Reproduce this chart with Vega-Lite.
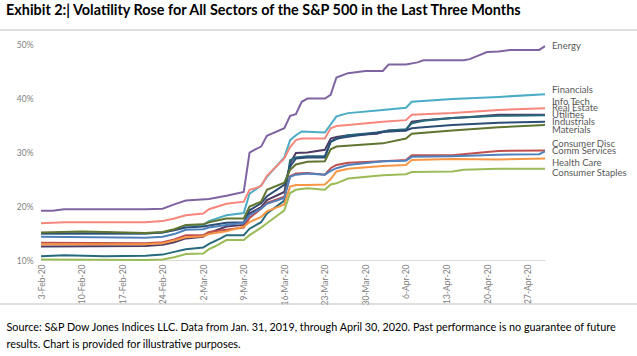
{
  "$schema": "https://vega.github.io/schema/vega-lite/v6.json",
  "width": 504,
  "height": 216,
  "autosize": {"type": "none"},
  "padding": {"left": 41, "top": 44, "right": 92, "bottom": 96},
  "background": "white",
  "config": {"view": {"stroke": null}, "font": "Lato"},
  "title": {
    "text": "Exhibit 2:| Volatility Rose for All Sectors of the S&P 500 in the Last Three Months",
    "anchor": "start",
    "frame": "group",
    "dx": -35,
    "offset": 11,
    "font": "Lato",
    "fontSize": 14.4,
    "fontWeight": "bold",
    "color": "#000000"
  },
  "data": {
    "values": [
      {"date": "2020-02-03", "sector": "Energy", "volatility": 0.191},
      {"date": "2020-02-05", "sector": "Energy", "volatility": 0.191},
      {"date": "2020-02-07", "sector": "Energy", "volatility": 0.194},
      {"date": "2020-02-21", "sector": "Energy", "volatility": 0.194},
      {"date": "2020-02-24", "sector": "Energy", "volatility": 0.195},
      {"date": "2020-02-26", "sector": "Energy", "volatility": 0.203},
      {"date": "2020-02-28", "sector": "Energy", "volatility": 0.210},
      {"date": "2020-03-03", "sector": "Energy", "volatility": 0.213},
      {"date": "2020-03-06", "sector": "Energy", "volatility": 0.219},
      {"date": "2020-03-09", "sector": "Energy", "volatility": 0.226},
      {"date": "2020-03-10", "sector": "Energy", "volatility": 0.299},
      {"date": "2020-03-11", "sector": "Energy", "volatility": 0.305},
      {"date": "2020-03-12", "sector": "Energy", "volatility": 0.310},
      {"date": "2020-03-13", "sector": "Energy", "volatility": 0.330},
      {"date": "2020-03-16", "sector": "Energy", "volatility": 0.344},
      {"date": "2020-03-17", "sector": "Energy", "volatility": 0.367},
      {"date": "2020-03-18", "sector": "Energy", "volatility": 0.370},
      {"date": "2020-03-19", "sector": "Energy", "volatility": 0.393},
      {"date": "2020-03-20", "sector": "Energy", "volatility": 0.399},
      {"date": "2020-03-23", "sector": "Energy", "volatility": 0.399},
      {"date": "2020-03-24", "sector": "Energy", "volatility": 0.406},
      {"date": "2020-03-25", "sector": "Energy", "volatility": 0.438},
      {"date": "2020-03-27", "sector": "Energy", "volatility": 0.446},
      {"date": "2020-03-30", "sector": "Energy", "volatility": 0.450},
      {"date": "2020-04-02", "sector": "Energy", "volatility": 0.450},
      {"date": "2020-04-03", "sector": "Energy", "volatility": 0.462},
      {"date": "2020-04-06", "sector": "Energy", "volatility": 0.462},
      {"date": "2020-04-08", "sector": "Energy", "volatility": 0.466},
      {"date": "2020-04-09", "sector": "Energy", "volatility": 0.470},
      {"date": "2020-04-16", "sector": "Energy", "volatility": 0.470},
      {"date": "2020-04-17", "sector": "Energy", "volatility": 0.472},
      {"date": "2020-04-20", "sector": "Energy", "volatility": 0.485},
      {"date": "2020-04-22", "sector": "Energy", "volatility": 0.486},
      {"date": "2020-04-24", "sector": "Energy", "volatility": 0.489},
      {"date": "2020-04-29", "sector": "Energy", "volatility": 0.489},
      {"date": "2020-04-30", "sector": "Energy", "volatility": 0.496},

      {"date": "2020-02-03", "sector": "Financials", "volatility": 0.149},
      {"date": "2020-02-21", "sector": "Financials", "volatility": 0.149},
      {"date": "2020-02-24", "sector": "Financials", "volatility": 0.151},
      {"date": "2020-02-26", "sector": "Financials", "volatility": 0.156},
      {"date": "2020-02-28", "sector": "Financials", "volatility": 0.164},
      {"date": "2020-03-02", "sector": "Financials", "volatility": 0.165},
      {"date": "2020-03-03", "sector": "Financials", "volatility": 0.172},
      {"date": "2020-03-06", "sector": "Financials", "volatility": 0.183},
      {"date": "2020-03-09", "sector": "Financials", "volatility": 0.187},
      {"date": "2020-03-10", "sector": "Financials", "volatility": 0.223},
      {"date": "2020-03-11", "sector": "Financials", "volatility": 0.230},
      {"date": "2020-03-12", "sector": "Financials", "volatility": 0.238},
      {"date": "2020-03-13", "sector": "Financials", "volatility": 0.254},
      {"date": "2020-03-16", "sector": "Financials", "volatility": 0.290},
      {"date": "2020-03-17", "sector": "Financials", "volatility": 0.322},
      {"date": "2020-03-18", "sector": "Financials", "volatility": 0.331},
      {"date": "2020-03-19", "sector": "Financials", "volatility": 0.338},
      {"date": "2020-03-23", "sector": "Financials", "volatility": 0.336},
      {"date": "2020-03-25", "sector": "Financials", "volatility": 0.366},
      {"date": "2020-03-27", "sector": "Financials", "volatility": 0.372},
      {"date": "2020-04-02", "sector": "Financials", "volatility": 0.378},
      {"date": "2020-04-06", "sector": "Financials", "volatility": 0.382},
      {"date": "2020-04-07", "sector": "Financials", "volatility": 0.393},
      {"date": "2020-04-14", "sector": "Financials", "volatility": 0.398},
      {"date": "2020-04-22", "sector": "Financials", "volatility": 0.402},
      {"date": "2020-04-30", "sector": "Financials", "volatility": 0.407},

      {"date": "2020-02-03", "sector": "Info Tech", "volatility": 0.168},
      {"date": "2020-02-07", "sector": "Info Tech", "volatility": 0.170},
      {"date": "2020-02-21", "sector": "Info Tech", "volatility": 0.170},
      {"date": "2020-02-24", "sector": "Info Tech", "volatility": 0.172},
      {"date": "2020-02-26", "sector": "Info Tech", "volatility": 0.177},
      {"date": "2020-02-28", "sector": "Info Tech", "volatility": 0.183},
      {"date": "2020-03-02", "sector": "Info Tech", "volatility": 0.186},
      {"date": "2020-03-03", "sector": "Info Tech", "volatility": 0.194},
      {"date": "2020-03-06", "sector": "Info Tech", "volatility": 0.204},
      {"date": "2020-03-09", "sector": "Info Tech", "volatility": 0.208},
      {"date": "2020-03-10", "sector": "Info Tech", "volatility": 0.230},
      {"date": "2020-03-11", "sector": "Info Tech", "volatility": 0.233},
      {"date": "2020-03-12", "sector": "Info Tech", "volatility": 0.237},
      {"date": "2020-03-13", "sector": "Info Tech", "volatility": 0.256},
      {"date": "2020-03-16", "sector": "Info Tech", "volatility": 0.288},
      {"date": "2020-03-17", "sector": "Info Tech", "volatility": 0.309},
      {"date": "2020-03-18", "sector": "Info Tech", "volatility": 0.322},
      {"date": "2020-03-19", "sector": "Info Tech", "volatility": 0.325},
      {"date": "2020-03-23", "sector": "Info Tech", "volatility": 0.325},
      {"date": "2020-03-24", "sector": "Info Tech", "volatility": 0.344},
      {"date": "2020-03-25", "sector": "Info Tech", "volatility": 0.348},
      {"date": "2020-03-27", "sector": "Info Tech", "volatility": 0.350},
      {"date": "2020-04-02", "sector": "Info Tech", "volatility": 0.356},
      {"date": "2020-04-06", "sector": "Info Tech", "volatility": 0.359},
      {"date": "2020-04-07", "sector": "Info Tech", "volatility": 0.369},
      {"date": "2020-04-14", "sector": "Info Tech", "volatility": 0.372},
      {"date": "2020-04-22", "sector": "Info Tech", "volatility": 0.378},
      {"date": "2020-04-30", "sector": "Info Tech", "volatility": 0.381},

      {"date": "2020-02-03", "sector": "Real Estate", "volatility": 0.125},
      {"date": "2020-02-21", "sector": "Real Estate", "volatility": 0.126},
      {"date": "2020-02-24", "sector": "Real Estate", "volatility": 0.128},
      {"date": "2020-02-26", "sector": "Real Estate", "volatility": 0.133},
      {"date": "2020-02-28", "sector": "Real Estate", "volatility": 0.140},
      {"date": "2020-03-02", "sector": "Real Estate", "volatility": 0.143},
      {"date": "2020-03-03", "sector": "Real Estate", "volatility": 0.150},
      {"date": "2020-03-06", "sector": "Real Estate", "volatility": 0.162},
      {"date": "2020-03-09", "sector": "Real Estate", "volatility": 0.165},
      {"date": "2020-03-10", "sector": "Real Estate", "volatility": 0.186},
      {"date": "2020-03-12", "sector": "Real Estate", "volatility": 0.198},
      {"date": "2020-03-13", "sector": "Real Estate", "volatility": 0.211},
      {"date": "2020-03-16", "sector": "Real Estate", "volatility": 0.226},
      {"date": "2020-03-17", "sector": "Real Estate", "volatility": 0.279},
      {"date": "2020-03-18", "sector": "Real Estate", "volatility": 0.298},
      {"date": "2020-03-20", "sector": "Real Estate", "volatility": 0.299},
      {"date": "2020-03-23", "sector": "Real Estate", "volatility": 0.304},
      {"date": "2020-03-24", "sector": "Real Estate", "volatility": 0.325},
      {"date": "2020-03-25", "sector": "Real Estate", "volatility": 0.328},
      {"date": "2020-03-27", "sector": "Real Estate", "volatility": 0.331},
      {"date": "2020-04-01", "sector": "Real Estate", "volatility": 0.334},
      {"date": "2020-04-03", "sector": "Real Estate", "volatility": 0.340},
      {"date": "2020-04-06", "sector": "Real Estate", "volatility": 0.340},
      {"date": "2020-04-07", "sector": "Real Estate", "volatility": 0.356},
      {"date": "2020-04-09", "sector": "Real Estate", "volatility": 0.359},
      {"date": "2020-04-14", "sector": "Real Estate", "volatility": 0.363},
      {"date": "2020-04-17", "sector": "Real Estate", "volatility": 0.365},
      {"date": "2020-04-22", "sector": "Real Estate", "volatility": 0.369},
      {"date": "2020-04-30", "sector": "Real Estate", "volatility": 0.369},

      {"date": "2020-02-03", "sector": "Utilities", "volatility": 0.107},
      {"date": "2020-02-07", "sector": "Utilities", "volatility": 0.109},
      {"date": "2020-02-14", "sector": "Utilities", "volatility": 0.107},
      {"date": "2020-02-21", "sector": "Utilities", "volatility": 0.108},
      {"date": "2020-02-24", "sector": "Utilities", "volatility": 0.110},
      {"date": "2020-02-26", "sector": "Utilities", "volatility": 0.115},
      {"date": "2020-02-28", "sector": "Utilities", "volatility": 0.120},
      {"date": "2020-03-02", "sector": "Utilities", "volatility": 0.123},
      {"date": "2020-03-03", "sector": "Utilities", "volatility": 0.130},
      {"date": "2020-03-05", "sector": "Utilities", "volatility": 0.140},
      {"date": "2020-03-06", "sector": "Utilities", "volatility": 0.146},
      {"date": "2020-03-09", "sector": "Utilities", "volatility": 0.146},
      {"date": "2020-03-10", "sector": "Utilities", "volatility": 0.158},
      {"date": "2020-03-12", "sector": "Utilities", "volatility": 0.170},
      {"date": "2020-03-13", "sector": "Utilities", "volatility": 0.186},
      {"date": "2020-03-16", "sector": "Utilities", "volatility": 0.210},
      {"date": "2020-03-17", "sector": "Utilities", "volatility": 0.285},
      {"date": "2020-03-18", "sector": "Utilities", "volatility": 0.290},
      {"date": "2020-03-20", "sector": "Utilities", "volatility": 0.292},
      {"date": "2020-03-23", "sector": "Utilities", "volatility": 0.292},
      {"date": "2020-03-24", "sector": "Utilities", "volatility": 0.319},
      {"date": "2020-03-25", "sector": "Utilities", "volatility": 0.324},
      {"date": "2020-03-27", "sector": "Utilities", "volatility": 0.331},
      {"date": "2020-04-01", "sector": "Utilities", "volatility": 0.336},
      {"date": "2020-04-03", "sector": "Utilities", "volatility": 0.340},
      {"date": "2020-04-06", "sector": "Utilities", "volatility": 0.342},
      {"date": "2020-04-07", "sector": "Utilities", "volatility": 0.353},
      {"date": "2020-04-09", "sector": "Utilities", "volatility": 0.358},
      {"date": "2020-04-14", "sector": "Utilities", "volatility": 0.363},
      {"date": "2020-04-22", "sector": "Utilities", "volatility": 0.367},
      {"date": "2020-04-30", "sector": "Utilities", "volatility": 0.368},

      {"date": "2020-02-03", "sector": "Industrials", "volatility": 0.149},
      {"date": "2020-02-21", "sector": "Industrials", "volatility": 0.149},
      {"date": "2020-02-24", "sector": "Industrials", "volatility": 0.151},
      {"date": "2020-02-26", "sector": "Industrials", "volatility": 0.155},
      {"date": "2020-02-28", "sector": "Industrials", "volatility": 0.160},
      {"date": "2020-03-02", "sector": "Industrials", "volatility": 0.162},
      {"date": "2020-03-03", "sector": "Industrials", "volatility": 0.164},
      {"date": "2020-03-06", "sector": "Industrials", "volatility": 0.169},
      {"date": "2020-03-09", "sector": "Industrials", "volatility": 0.170},
      {"date": "2020-03-10", "sector": "Industrials", "volatility": 0.192},
      {"date": "2020-03-12", "sector": "Industrials", "volatility": 0.205},
      {"date": "2020-03-13", "sector": "Industrials", "volatility": 0.218},
      {"date": "2020-03-16", "sector": "Industrials", "volatility": 0.239},
      {"date": "2020-03-17", "sector": "Industrials", "volatility": 0.273},
      {"date": "2020-03-18", "sector": "Industrials", "volatility": 0.288},
      {"date": "2020-03-20", "sector": "Industrials", "volatility": 0.290},
      {"date": "2020-03-23", "sector": "Industrials", "volatility": 0.290},
      {"date": "2020-03-24", "sector": "Industrials", "volatility": 0.319},
      {"date": "2020-03-25", "sector": "Industrials", "volatility": 0.325},
      {"date": "2020-03-27", "sector": "Industrials", "volatility": 0.328},
      {"date": "2020-04-02", "sector": "Industrials", "volatility": 0.337},
      {"date": "2020-04-06", "sector": "Industrials", "volatility": 0.340},
      {"date": "2020-04-07", "sector": "Industrials", "volatility": 0.344},
      {"date": "2020-04-09", "sector": "Industrials", "volatility": 0.346},
      {"date": "2020-04-14", "sector": "Industrials", "volatility": 0.350},
      {"date": "2020-04-22", "sector": "Industrials", "volatility": 0.354},
      {"date": "2020-04-30", "sector": "Industrials", "volatility": 0.356},

      {"date": "2020-02-03", "sector": "Materials", "volatility": 0.151},
      {"date": "2020-02-10", "sector": "Materials", "volatility": 0.153},
      {"date": "2020-02-14", "sector": "Materials", "volatility": 0.152},
      {"date": "2020-02-21", "sector": "Materials", "volatility": 0.150},
      {"date": "2020-02-24", "sector": "Materials", "volatility": 0.152},
      {"date": "2020-02-26", "sector": "Materials", "volatility": 0.157},
      {"date": "2020-02-28", "sector": "Materials", "volatility": 0.165},
      {"date": "2020-03-02", "sector": "Materials", "volatility": 0.166},
      {"date": "2020-03-03", "sector": "Materials", "volatility": 0.170},
      {"date": "2020-03-06", "sector": "Materials", "volatility": 0.177},
      {"date": "2020-03-09", "sector": "Materials", "volatility": 0.177},
      {"date": "2020-03-10", "sector": "Materials", "volatility": 0.199},
      {"date": "2020-03-12", "sector": "Materials", "volatility": 0.208},
      {"date": "2020-03-13", "sector": "Materials", "volatility": 0.230},
      {"date": "2020-03-16", "sector": "Materials", "volatility": 0.243},
      {"date": "2020-03-17", "sector": "Materials", "volatility": 0.267},
      {"date": "2020-03-18", "sector": "Materials", "volatility": 0.277},
      {"date": "2020-03-20", "sector": "Materials", "volatility": 0.282},
      {"date": "2020-03-23", "sector": "Materials", "volatility": 0.283},
      {"date": "2020-03-24", "sector": "Materials", "volatility": 0.305},
      {"date": "2020-03-25", "sector": "Materials", "volatility": 0.310},
      {"date": "2020-04-02", "sector": "Materials", "volatility": 0.316},
      {"date": "2020-04-06", "sector": "Materials", "volatility": 0.325},
      {"date": "2020-04-07", "sector": "Materials", "volatility": 0.334},
      {"date": "2020-04-14", "sector": "Materials", "volatility": 0.340},
      {"date": "2020-04-22", "sector": "Materials", "volatility": 0.346},
      {"date": "2020-04-30", "sector": "Materials", "volatility": 0.350},

      {"date": "2020-02-03", "sector": "Consumer Disc", "volatility": 0.132},
      {"date": "2020-02-21", "sector": "Consumer Disc", "volatility": 0.131},
      {"date": "2020-02-24", "sector": "Consumer Disc", "volatility": 0.133},
      {"date": "2020-02-26", "sector": "Consumer Disc", "volatility": 0.138},
      {"date": "2020-02-28", "sector": "Consumer Disc", "volatility": 0.146},
      {"date": "2020-03-02", "sector": "Consumer Disc", "volatility": 0.146},
      {"date": "2020-03-03", "sector": "Consumer Disc", "volatility": 0.152},
      {"date": "2020-03-06", "sector": "Consumer Disc", "volatility": 0.156},
      {"date": "2020-03-09", "sector": "Consumer Disc", "volatility": 0.160},
      {"date": "2020-03-10", "sector": "Consumer Disc", "volatility": 0.178},
      {"date": "2020-03-12", "sector": "Consumer Disc", "volatility": 0.195},
      {"date": "2020-03-13", "sector": "Consumer Disc", "volatility": 0.206},
      {"date": "2020-03-16", "sector": "Consumer Disc", "volatility": 0.217},
      {"date": "2020-03-17", "sector": "Consumer Disc", "volatility": 0.255},
      {"date": "2020-03-18", "sector": "Consumer Disc", "volatility": 0.260},
      {"date": "2020-03-20", "sector": "Consumer Disc", "volatility": 0.261},
      {"date": "2020-03-23", "sector": "Consumer Disc", "volatility": 0.258},
      {"date": "2020-03-24", "sector": "Consumer Disc", "volatility": 0.270},
      {"date": "2020-03-25", "sector": "Consumer Disc", "volatility": 0.276},
      {"date": "2020-03-27", "sector": "Consumer Disc", "volatility": 0.280},
      {"date": "2020-04-02", "sector": "Consumer Disc", "volatility": 0.283},
      {"date": "2020-04-06", "sector": "Consumer Disc", "volatility": 0.285},
      {"date": "2020-04-07", "sector": "Consumer Disc", "volatility": 0.294},
      {"date": "2020-04-14", "sector": "Consumer Disc", "volatility": 0.294},
      {"date": "2020-04-20", "sector": "Consumer Disc", "volatility": 0.300},
      {"date": "2020-04-22", "sector": "Consumer Disc", "volatility": 0.302},
      {"date": "2020-04-30", "sector": "Consumer Disc", "volatility": 0.303},

      {"date": "2020-02-03", "sector": "Comm Services", "volatility": 0.143},
      {"date": "2020-02-21", "sector": "Comm Services", "volatility": 0.141},
      {"date": "2020-02-24", "sector": "Comm Services", "volatility": 0.143},
      {"date": "2020-02-26", "sector": "Comm Services", "volatility": 0.148},
      {"date": "2020-02-28", "sector": "Comm Services", "volatility": 0.156},
      {"date": "2020-03-02", "sector": "Comm Services", "volatility": 0.157},
      {"date": "2020-03-03", "sector": "Comm Services", "volatility": 0.160},
      {"date": "2020-03-06", "sector": "Comm Services", "volatility": 0.165},
      {"date": "2020-03-09", "sector": "Comm Services", "volatility": 0.169},
      {"date": "2020-03-10", "sector": "Comm Services", "volatility": 0.183},
      {"date": "2020-03-12", "sector": "Comm Services", "volatility": 0.195},
      {"date": "2020-03-13", "sector": "Comm Services", "volatility": 0.204},
      {"date": "2020-03-16", "sector": "Comm Services", "volatility": 0.215},
      {"date": "2020-03-17", "sector": "Comm Services", "volatility": 0.254},
      {"date": "2020-03-18", "sector": "Comm Services", "volatility": 0.258},
      {"date": "2020-03-20", "sector": "Comm Services", "volatility": 0.260},
      {"date": "2020-03-23", "sector": "Comm Services", "volatility": 0.258},
      {"date": "2020-03-24", "sector": "Comm Services", "volatility": 0.265},
      {"date": "2020-03-25", "sector": "Comm Services", "volatility": 0.270},
      {"date": "2020-03-27", "sector": "Comm Services", "volatility": 0.276},
      {"date": "2020-04-02", "sector": "Comm Services", "volatility": 0.283},
      {"date": "2020-04-06", "sector": "Comm Services", "volatility": 0.284},
      {"date": "2020-04-07", "sector": "Comm Services", "volatility": 0.291},
      {"date": "2020-04-14", "sector": "Comm Services", "volatility": 0.292},
      {"date": "2020-04-22", "sector": "Comm Services", "volatility": 0.295},
      {"date": "2020-04-29", "sector": "Comm Services", "volatility": 0.296},
      {"date": "2020-04-30", "sector": "Comm Services", "volatility": 0.301},

      {"date": "2020-02-03", "sector": "Health Care", "volatility": 0.129},
      {"date": "2020-02-21", "sector": "Health Care", "volatility": 0.129},
      {"date": "2020-02-24", "sector": "Health Care", "volatility": 0.131},
      {"date": "2020-02-26", "sector": "Health Care", "volatility": 0.136},
      {"date": "2020-02-28", "sector": "Health Care", "volatility": 0.142},
      {"date": "2020-03-02", "sector": "Health Care", "volatility": 0.144},
      {"date": "2020-03-03", "sector": "Health Care", "volatility": 0.148},
      {"date": "2020-03-06", "sector": "Health Care", "volatility": 0.153},
      {"date": "2020-03-09", "sector": "Health Care", "volatility": 0.162},
      {"date": "2020-03-10", "sector": "Health Care", "volatility": 0.170},
      {"date": "2020-03-12", "sector": "Health Care", "volatility": 0.180},
      {"date": "2020-03-13", "sector": "Health Care", "volatility": 0.190},
      {"date": "2020-03-16", "sector": "Health Care", "volatility": 0.203},
      {"date": "2020-03-17", "sector": "Health Care", "volatility": 0.236},
      {"date": "2020-03-18", "sector": "Health Care", "volatility": 0.239},
      {"date": "2020-03-20", "sector": "Health Care", "volatility": 0.239},
      {"date": "2020-03-23", "sector": "Health Care", "volatility": 0.240},
      {"date": "2020-03-24", "sector": "Health Care", "volatility": 0.250},
      {"date": "2020-03-25", "sector": "Health Care", "volatility": 0.264},
      {"date": "2020-03-27", "sector": "Health Care", "volatility": 0.269},
      {"date": "2020-04-02", "sector": "Health Care", "volatility": 0.274},
      {"date": "2020-04-06", "sector": "Health Care", "volatility": 0.276},
      {"date": "2020-04-07", "sector": "Health Care", "volatility": 0.285},
      {"date": "2020-04-14", "sector": "Health Care", "volatility": 0.287},
      {"date": "2020-04-22", "sector": "Health Care", "volatility": 0.286},
      {"date": "2020-04-30", "sector": "Health Care", "volatility": 0.288},

      {"date": "2020-02-03", "sector": "Consumer Staples", "volatility": 0.101},
      {"date": "2020-02-21", "sector": "Consumer Staples", "volatility": 0.100},
      {"date": "2020-02-24", "sector": "Consumer Staples", "volatility": 0.101},
      {"date": "2020-02-26", "sector": "Consumer Staples", "volatility": 0.105},
      {"date": "2020-02-28", "sector": "Consumer Staples", "volatility": 0.111},
      {"date": "2020-03-02", "sector": "Consumer Staples", "volatility": 0.112},
      {"date": "2020-03-03", "sector": "Consumer Staples", "volatility": 0.120},
      {"date": "2020-03-04", "sector": "Consumer Staples", "volatility": 0.125},
      {"date": "2020-03-06", "sector": "Consumer Staples", "volatility": 0.137},
      {"date": "2020-03-09", "sector": "Consumer Staples", "volatility": 0.137},
      {"date": "2020-03-10", "sector": "Consumer Staples", "volatility": 0.146},
      {"date": "2020-03-12", "sector": "Consumer Staples", "volatility": 0.160},
      {"date": "2020-03-13", "sector": "Consumer Staples", "volatility": 0.168},
      {"date": "2020-03-16", "sector": "Consumer Staples", "volatility": 0.192},
      {"date": "2020-03-17", "sector": "Consumer Staples", "volatility": 0.224},
      {"date": "2020-03-18", "sector": "Consumer Staples", "volatility": 0.230},
      {"date": "2020-03-20", "sector": "Consumer Staples", "volatility": 0.233},
      {"date": "2020-03-23", "sector": "Consumer Staples", "volatility": 0.230},
      {"date": "2020-03-24", "sector": "Consumer Staples", "volatility": 0.240},
      {"date": "2020-03-25", "sector": "Consumer Staples", "volatility": 0.242},
      {"date": "2020-03-27", "sector": "Consumer Staples", "volatility": 0.251},
      {"date": "2020-04-02", "sector": "Consumer Staples", "volatility": 0.257},
      {"date": "2020-04-06", "sector": "Consumer Staples", "volatility": 0.259},
      {"date": "2020-04-07", "sector": "Consumer Staples", "volatility": 0.263},
      {"date": "2020-04-14", "sector": "Consumer Staples", "volatility": 0.264},
      {"date": "2020-04-16", "sector": "Consumer Staples", "volatility": 0.267},
      {"date": "2020-04-22", "sector": "Consumer Staples", "volatility": 0.269},
      {"date": "2020-04-30", "sector": "Consumer Staples", "volatility": 0.269}
    ]
  },
  "layer": [
    {
      "data": {"values": [{"line": "top"}]},
      "mark": {"type": "rule", "color": "#bfbfbf", "strokeWidth": 1},
      "encoding": {"x": {"value": -41}, "x2": {"value": 596}, "y": {"value": -14}}
    },
    {
      "data": {"values": [{"line": "bottom"}]},
      "mark": {"type": "rule", "color": "#bfbfbf", "strokeWidth": 1},
      "encoding": {"x": {"value": -41}, "x2": {"value": 596}, "y": {"value": 260}}
    },
    {
      "mark": {"type": "line", "strokeWidth": 2},
      "encoding": {
        "x": {
          "field": "date",
          "type": "temporal",
          "scale": {
            "type": "utc",
            "domain": [
              {"year": 2020, "month": 2, "date": 3, "utc": true},
              {"year": 2020, "month": 4, "date": 30, "utc": true}
            ],
            "nice": false
          },
          "axis": {
            "values": [
              {"year": 2020, "month": 2, "date": 3, "utc": true},
              {"year": 2020, "month": 2, "date": 10, "utc": true},
              {"year": 2020, "month": 2, "date": 17, "utc": true},
              {"year": 2020, "month": 2, "date": 24, "utc": true},
              {"year": 2020, "month": 3, "date": 2, "utc": true},
              {"year": 2020, "month": 3, "date": 9, "utc": true},
              {"year": 2020, "month": 3, "date": 16, "utc": true},
              {"year": 2020, "month": 3, "date": 23, "utc": true},
              {"year": 2020, "month": 3, "date": 30, "utc": true},
              {"year": 2020, "month": 4, "date": 6, "utc": true},
              {"year": 2020, "month": 4, "date": 13, "utc": true},
              {"year": 2020, "month": 4, "date": 20, "utc": true},
              {"year": 2020, "month": 4, "date": 27, "utc": true}
            ],
            "labelExpr": "utcFormat(datum.value, '%-d-%b-%y')",
            "labelAngle": -90,
            "labelFont": "Lato",
            "labelFontSize": 8.5,
            "labelColor": "#808080",
            "labelPadding": 4,
            "labelOverlap": false,
            "ticks": false,
            "grid": false,
            "domainColor": "#d9d9d9",
            "domainWidth": 1,
            "title": [
              "Source: S&P Dow Jones Indices LLC.  Data from Jan. 31, 2019, through April 30, 2020.  Past performance is no guarantee of future",
              "results.  Chart is provided for illustrative purposes."
            ],
            "titleAnchor": "start",
            "titleAlign": "left",
            "titleBaseline": "top",
            "titleX": -35,
            "titleY": 61,
            "titleFont": "Lato",
            "titleFontSize": 10.8,
            "titleFontWeight": "normal",
            "titleColor": "#000000",
            "titleLineHeight": 17
          }
        },
        "y": {
          "field": "volatility",
          "type": "quantitative",
          "scale": {"domain": [0.1, 0.5], "nice": false, "zero": false},
          "axis": {
            "values": [0.1, 0.15, 0.2, 0.25, 0.3, 0.35, 0.4, 0.45, 0.5],
            "format": ".0%",
            "ticks": false,
            "domain": false,
            "grid": false,
            "labelFont": "Lato",
            "labelFontSize": 8.5,
            "labelColor": "#808080",
            "labelPadding": 8,
            "title": null
          }
        },
        "color": {
          "field": "sector",
          "type": "nominal",
          "scale": {
            "domain": ["Comm Services", "Consumer Disc", "Consumer Staples", "Energy", "Financials", "Health Care", "Industrials", "Info Tech", "Materials", "Real Estate", "Utilities"],
            "range": ["#4F81BD", "#C0504D", "#9BBB59", "#8064A2", "#4BACC6", "#F79646", "#2C4D75", "#F7877C", "#5F7530", "#4D3B62", "#276A7C"]
          },
          "legend": null
        }
      }
    },
    {
      "transform": [
        {"aggregate": [{"op": "argmax", "field": "date", "as": "last"}], "groupby": ["sector"]},
        {"filter": {"field": "sector", "oneOf": ["Energy", "Utilities", "Industrials", "Comm Services"]}}
      ],
      "mark": {"type": "text", "align": "left", "dx": 7, "dy": 0, "font": "Lato", "fontSize": 9.5, "color": "#595959"},
      "encoding": {
        "x": {"field": "last.date", "type": "temporal"},
        "y": {"field": "last.volatility", "type": "quantitative"},
        "text": {"field": "sector"}
      }
    },
    {
      "transform": [
        {"aggregate": [{"op": "argmax", "field": "date", "as": "last"}], "groupby": ["sector"]},
        {"filter": {"field": "sector", "oneOf": ["Financials"]}}
      ],
      "mark": {"type": "text", "align": "left", "dx": 7, "dy": -4, "font": "Lato", "fontSize": 9.5, "color": "#595959"},
      "encoding": {
        "x": {"field": "last.date", "type": "temporal"},
        "y": {"field": "last.volatility", "type": "quantitative"},
        "text": {"field": "sector"}
      }
    },
    {
      "transform": [
        {"aggregate": [{"op": "argmax", "field": "date", "as": "last"}], "groupby": ["sector"]},
        {"filter": {"field": "sector", "oneOf": ["Info Tech", "Real Estate", "Consumer Disc"]}}
      ],
      "mark": {"type": "text", "align": "left", "dx": 7, "dy": -6.5, "font": "Lato", "fontSize": 9.5, "color": "#595959"},
      "encoding": {
        "x": {"field": "last.date", "type": "temporal"},
        "y": {"field": "last.volatility", "type": "quantitative"},
        "text": {"field": "sector"}
      }
    },
    {
      "transform": [
        {"aggregate": [{"op": "argmax", "field": "date", "as": "last"}], "groupby": ["sector"]},
        {"filter": {"field": "sector", "oneOf": ["Materials", "Health Care", "Consumer Staples"]}}
      ],
      "mark": {"type": "text", "align": "left", "dx": 7, "dy": 4.5, "font": "Lato", "fontSize": 9.5, "color": "#595959"},
      "encoding": {
        "x": {"field": "last.date", "type": "temporal"},
        "y": {"field": "last.volatility", "type": "quantitative"},
        "text": {"field": "sector"}
      }
    }
  ]
}
